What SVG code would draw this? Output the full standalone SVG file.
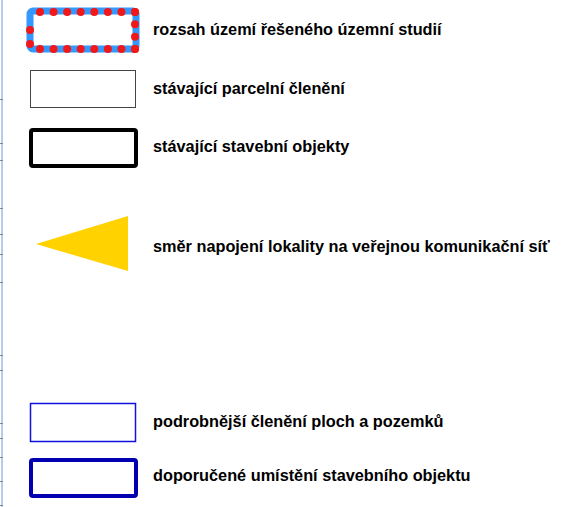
<svg xmlns="http://www.w3.org/2000/svg" width="588" height="507" viewBox="0 0 588 507">
<style>
.t{font-family:"Liberation Sans",Arial,sans-serif;font-weight:bold;font-size:16.3px;fill:#000}
.tick{stroke:#888;stroke-width:1}
.dots{fill:none;stroke:#f01818;stroke-width:8;stroke-linecap:round}
</style>
<rect width="588" height="507" fill="#fff"/>
<g id="frame">
<line x1="2" y1="0" x2="2" y2="507" stroke="#b4cde8" stroke-width="2"/>
<g class="tick">
<line x1="0" y1="99.5" x2="3" y2="99.5"/><line x1="0" y1="143.5" x2="3" y2="143.5"/><line x1="0" y1="160.5" x2="3" y2="160.5"/>
<line x1="0" y1="208.5" x2="3" y2="208.5"/><line x1="0" y1="234.5" x2="3" y2="234.5"/><line x1="0" y1="254.5" x2="3" y2="254.5"/>
<line x1="0" y1="282.5" x2="3" y2="282.5"/><line x1="0" y1="355.5" x2="3" y2="355.5"/><line x1="0" y1="370.5" x2="3" y2="370.5"/>
<line x1="0" y1="423.5" x2="3" y2="423.5"/><line x1="0" y1="438.5" x2="3" y2="438.5"/><line x1="0" y1="457.5" x2="3" y2="457.5"/>
<line x1="0" y1="481.5" x2="3" y2="481.5"/><line x1="0" y1="505.5" x2="3" y2="505.5"/>
</g>
</g>
<g id="legend-boundary">
<rect x="30" y="11" width="106" height="38" rx="3" fill="#fff" stroke="#3399ff" stroke-width="7"/>
<path class="dots" d="M40 12 H135" stroke-dasharray="0 13.57"/>
<path class="dots" d="M30 44 V16" stroke-dasharray="0 14"/>
<path class="dots" d="M135 12 V49" stroke-dasharray="0 12.33"/>
<path class="dots" d="M40 49 H135" stroke-dasharray="0 13.57"/>
<text class="t" x="153" y="35">rozsah území řešeného územní studií</text>
</g>
<g id="legend-parcel">
<rect x="30.5" y="70.5" width="105" height="37" fill="#fff" stroke="#444" stroke-width="1"/>
<text class="t" x="153" y="94">stávající parcelní členění</text>
</g>
<g id="legend-buildings">
<rect x="31" y="130" width="105" height="36" rx="2" fill="#fff" stroke="#000" stroke-width="4"/>
<text class="t" x="153" y="152">stávající stavební objekty</text>
</g>
<g id="legend-access">
<polygon points="36,244 128,216 128,271" fill="#ffd200"/>
<text class="t" x="153" y="252">směr napojení lokality na veřejnou komunikační síť</text>
</g>
<g id="legend-detail">
<rect x="30.5" y="403.5" width="105" height="38" fill="#fff" stroke="#1010e0" stroke-width="1.5"/>
<text class="t" x="153" y="427">podrobnější členění ploch a pozemků</text>
</g>
<g id="legend-recommended">
<rect x="31" y="460" width="105" height="36" rx="2" fill="#fff" stroke="#0000b0" stroke-width="4"/>
<text class="t" x="153" y="481">doporučené umístění stavebního objektu</text>
</g>
</svg>
